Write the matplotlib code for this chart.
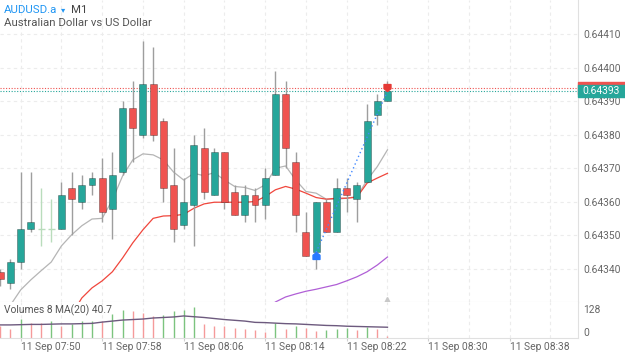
import numpy as np
import matplotlib.pyplot as plt
from matplotlib.path import Path
from matplotlib.patches import Rectangle

plt.rcParams['font.family'] = ['Roboto', 'DejaVu Sans']

# AUDUSD.a M1 bars, 11 Sep 07:48 .. 08:26 (prices in units of 0.00001)
opens = [64339, 64336, 64342, 64352, 64352, 64352, 64352, 64364, 64360, 64365,
         64367, 64358, 64369, 64388, 64380, 64395, 64384, 64365, 64353, 64359,
         64376, 64362, 64375, 64363, 64356, 64362, 64359, 64368, 64392, 64372,
         64351, 64345, 64360, 64351, 64364, 64361, 64366, 64386, 64390]
highs = [64340, 64343, 64369, 64369, 64364, 64361, 64366, 64369, 64368, 64369,
         64373, 64375, 64390, 64396, 64408, 64406, 64385, 64376, 64367, 64380,
         64382, 64376, 64375, 64365, 64365, 64364, 64370, 64399, 64396, 64375,
         64357, 64360, 64361, 64367, 64367, 64366, 64389, 64392, 64396]
lows = [64335, 64334, 64340, 64351, 64347, 64348, 64352, 64350, 64358, 64362,
        64354, 64349, 64368, 64372, 64379, 64378, 64360, 64348, 64352, 64347,
        64361, 64362, 64358, 64356, 64354, 64354, 64355, 64368, 64370, 64351,
        64344, 64340, 64351, 64351, 64357, 64354, 64366, 64383, 64390]
closes = [64337, 64342, 64352, 64354, 64352, 64352, 64362, 64361, 64365, 64367,
          64357, 64368, 64388, 64382, 64395, 64380, 64364, 64352, 64360, 64377,
          64363, 64375, 64360, 64356, 64362, 64359, 64367, 64392, 64376, 64356,
          64344, 64360, 64351, 64364, 64362, 64365, 64384, 64390, 64393]
volumes = [45, 37, 73, 60, 58, 65, 46, 56, 66, 68, 65, 92, 110, 105, 99, 86, 89,
           104, 108, 121, 53, 47, 46, 39, 37, 30, 23, 59, 37, 47, 39, 26, 30, 37,
           39, 30, 43, 37, 8]

# indicator lines as shown on the chart (nan = not visible)
nan = np.nan
ma_grey = [nan, 64329.3, 64333.8, 64336.8, 64339.5, 64342.1, 64346.9, 64350.2,
           64352.9, 64354.9, 64355.1, 64360.6, 64367.7, 64372.5, 64374.3, 64374.0,
           64372.5, 64368.9, 64366.5, 64368.5, 64367.8, 64368.7, 64366.5, 64364.6,
           64364.3, 64363.4, 64365.1, 64370.0, 64370.7, 64366.5, 64363.1, 64362.6,
           64360.8, 64360.8, 64361.1, 64361.6, 64366.5, 64370.5, 64375.5]
ma_red = [nan, nan, nan, nan, nan, nan, nan, 64326.4, 64331.4, 64334.4, 64336.5,
          64339.2, 64343.3, 64347.8, 64351.7, 64355.1, 64355.8, 64355.9, 64356.3,
          64358.1, 64359.4, 64359.9, 64359.9, 64359.9, 64359.9, 64360.1, 64361.6,
          64363.6, 64364.6, 64363.8, 64362.6, 64361.3, 64360.8, 64361.1, 64361.1,
          64361.4, 64365.6, 64367.1, 64368.5]
ma_purple = [nan] * 26 + [64327.9, 64330.2, 64331.7, 64332.6, 64333.4, 64334.0,
                          64334.7, 64335.4, 64336.5, 64337.7, 64339.2, 64341.2, 64343.6]
vol_ma = [51, 51, 52, 53, 53, 54, 55, 55, 56, 57, 62, 66, 70, 72, 74, 78, 80, 82,
          86, 83, 80, 76, 72, 69, 66, 61, 60, 58, 56, 55, 53, 51, 49, 48, 46, 45,
          44, 43, 42]

bid = 0.64393
ask = 0.64394
trade_in, trade_out = 31, 38

price_ticks = [0.64340, 0.64350, 0.64360, 0.64370, 0.64380, 0.64390, 0.64400, 0.64410]
time_ticks = [2, 10, 18, 26, 34, 42, 50]
time_labels = ['11 Sep 07:50', '11 Sep 07:58', '11 Sep 08:06', '11 Sep 08:14',
               '11 Sep 08:22', '11 Sep 08:30', '11 Sep 08:38']

o = np.array(opens) / 1e5
h = np.array(highs) / 1e5
l = np.array(lows) / 1e5
c = np.array(closes) / 1e5
x = np.arange(len(o))

UP = '#26a69a'
DOWN = '#ef5350'
GRID = '#ececec'
TXT = '#666666'

fig = plt.figure(figsize=(6.25, 3.52), dpi=100)
ax = fig.add_axes([0, 50 / 352, 578 / 625, 302 / 352])
axv = fig.add_axes([0, 14 / 352, 578 / 625, 36 / 352], sharex=ax)

xmin, xmax = -0.03, 56.7

# ---- price panel
for xi in range(2, 57, 4):
    ax.axvline(xi, color=GRID, lw=0.8, ls=(0, (3, 3)), zorder=0)
for p in price_ticks:
    ax.axhline(p, color=GRID, lw=0.8, ls=(0, (3, 3)), zorder=0)

ax.plot(x, np.array(ma_grey) / 1e5, color='#b5b5b5', lw=0.9, zorder=1)
ax.plot(x, np.array(ma_red) / 1e5, color='#f0463c', lw=0.9, zorder=1)
ax.plot(x, np.array(ma_purple) / 1e5, color='#b05fd6', lw=0.9, zorder=1)

w = 0.68
for i in x:
    if o[i] == c[i]:
        ax.vlines(i, l[i], h[i], color='#b9dcbc', lw=1, zorder=2)
        ax.hlines(o[i], i - w / 2, i + w / 2, color='#b9dcbc', lw=1, zorder=2)
        continue
    col = UP if c[i] > o[i] else DOWN
    ax.vlines(i, l[i], h[i], color='#9e9e9e', lw=1, zorder=2)
    ax.bar(i, abs(c[i] - o[i]), bottom=min(o[i], c[i]), width=w, color=col,
           edgecolor='#00000055', linewidth=0.6, zorder=3)

ax.axhline(ask, color=DOWN, lw=0.8, ls=(0, (1, 1.5)), zorder=1)
ax.axhline(bid, color=UP, lw=0.8, ls=(0, (1, 1.5)), zorder=1)

# trade markers
up_arrow = Path([(0, 0), (1, -0.8), (1, -2), (-1, -2), (-1, -0.8), (0, 0)],
                [Path.MOVETO] + [Path.LINETO] * 4 + [Path.CLOSEPOLY])
down_arrow = Path([(0, 0), (1, 0.8), (1, 2), (-1, 2), (-1, 0.8), (0, 0)],
                  [Path.MOVETO] + [Path.LINETO] * 4 + [Path.CLOSEPOLY])
ax.plot([trade_in, trade_out], [o[trade_in], c[trade_out]], color='#448aff',
        lw=1, ls=(0, (1, 2)), zorder=4)
ax.plot(trade_in, o[trade_in], marker=up_arrow, ms=10, color='#2979ff', zorder=5)
ax.plot(trade_out, c[trade_out], marker=down_arrow, ms=10, color='#e53935', zorder=5)
ax.plot(x[-1], 0.008, marker='^', ms=5, color='#c8c8c8',
        transform=ax.get_xaxis_transform(), clip_on=False, zorder=5)

ax.set_xlim(xmin, xmax)
ax.set_ylim(0.643302, 0.644201)
ax.yaxis.tick_right()
ax.set_yticks(price_ticks)
ax.set_yticklabels([f'{p:.5f}' for p in price_ticks])
ax.tick_params(axis='y', length=0, pad=4, labelsize=7.4, labelcolor=TXT)
ax.tick_params(axis='x', length=0, labelbottom=False)
for s in ['top', 'left']:
    ax.spines[s].set_visible(False)
for s in ['right', 'bottom']:
    ax.spines[s].set_color('#e0e0e0')
    ax.spines[s].set_linewidth(0.8)

# price boxes on the right scale
tr = ax.get_yaxis_transform()
box_h = 12 / 336000
ax.add_patch(Rectangle((1.0, ask - box_h / 2), 47 / 578, box_h, transform=tr,
                       color=DOWN, clip_on=False, zorder=6))
ax.add_patch(Rectangle((1.0, bid - box_h / 2), 47 / 578, box_h, transform=tr,
                       color=UP, clip_on=False, zorder=7))
ax.text(1.0 + 4 / 578, bid, f'{bid:.5f}', transform=tr, color='white',
        fontsize=7.4, va='center', ha='left', zorder=8, clip_on=False)

# ---- volume panel
for xi in range(2, 57, 4):
    axv.axvline(xi, color=GRID, lw=0.8, ls=(0, (3, 3)), zorder=0)
vol = np.array(volumes)
prev = np.concatenate([[vol[0]], vol[:-1]])
vcol = np.where(vol > prev, '#7cc47f', '#f59a9a')
axv.vlines(x, 0, vol, colors=vcol, lw=1, zorder=2)
axv.plot(x, vol_ma, color='#6d5a7e', lw=1, zorder=3)
axv.set_ylim(0, 140.4)
axv.yaxis.tick_right()
axv.set_yticks([0, 128])
axv.set_yticklabels(['0', '128'])
axv.tick_params(axis='y', length=0, pad=4, labelsize=7.4, labelcolor=TXT)
ylab = axv.get_yticklabels()
ylab[0].set_va('bottom')
ylab[1].set_va('top')
axv.set_xticks(time_ticks)
axv.set_xticklabels(time_labels)
axv.tick_params(axis='x', length=2, color='#d0d0d0', pad=1, labelsize=7.4,
                labelcolor=TXT)
for t in axv.get_xticklabels():
    t.set_ha('left')
for s in ['top', 'left']:
    axv.spines[s].set_visible(False)
for s in ['right', 'bottom']:
    axv.spines[s].set_color('#e0e0e0')
    axv.spines[s].set_linewidth(0.8)
axv.text(4 / 578, 0.78, 'Volumes 8 MA(20) 40.7', transform=axv.transAxes,
         fontsize=7.4, color='#555555', va='center', ha='left')

# ---- header (pieces chained one after another)
t_sym = fig.text(4 / 625, 1 - 10 / 352, 'AUDUSD.a', color='#2196f3', fontsize=8.2,
                 va='center', ha='left')
t_arr = ax.annotate('▾', xy=(1, 0.5), xycoords=t_sym, xytext=(2.5, 0),
                    textcoords='offset points', color='#2196f3', fontsize=6,
                    va='center', ha='left', family='DejaVu Sans',
                    annotation_clip=False)
ax.annotate('M1', xy=(1, 0.5), xycoords=t_arr, xytext=(4, 0),
            textcoords='offset points', color='#444444', fontsize=8.2,
            va='center', ha='left', annotation_clip=False)
fig.text(4 / 625, 1 - 23 / 352, 'Australian Dollar vs US Dollar', color='#555555',
         fontsize=8.2, va='center', ha='left')

fig.savefig('out.png', dpi=100)
